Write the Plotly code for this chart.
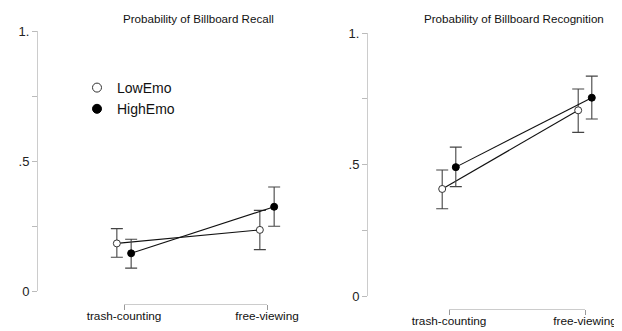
import plotly.graph_objects as go

PAGE_W, PAGE_H = 622, 331
OFF = 8  # default body margin of the page
W, H = PAGE_W - OFF, PAGE_H - OFF

categories = ["trash-counting", "free-viewing"]
groups = ["LowEmo", "HighEmo"]

# Recall panel
recall_low = [0.183, 0.235]
recall_low_err_plus = [0.057, 0.075]
recall_low_err_minus = [0.053, 0.076]
recall_high = [0.145, 0.324]
recall_high_err_plus = [0.054, 0.076]
recall_high_err_minus = [0.057, 0.075]

# Recognition panel
recog_low = [0.407, 0.706]
recog_low_err_plus = [0.072, 0.081]
recog_low_err_minus = [0.075, 0.084]
recog_high = [0.490, 0.754]
recog_high_err_plus = [0.076, 0.082]
recog_high_err_minus = [0.074, 0.081]

y_tickvals = [0, 0.25, 0.5, 0.75, 1.0]
y_ticktext = ["0", "", ".5", "", "1."]

titles = ["Probability of Billboard Recall", "Probability of Billboard Recognition"]

FONT = "Liberation Sans, Arial, Helvetica, sans-serif"
DODGE = 0.05


def px_x(p):
    return (p - OFF) / W


def px_y(p):
    return 1 - (p - OFF) / H


def x_axis_range(axis_px, cat0_px, cat1_px, end_px):
    scale = cat1_px - cat0_px
    return [-(cat0_px - axis_px) / scale, (end_px - cat0_px) / scale]


fig = go.Figure()

panels = [
    dict(low=recall_low, lp=recall_low_err_plus, lm=recall_low_err_minus,
         high=recall_high, hp=recall_high_err_plus, hm=recall_high_err_minus,
         xa="x", ya="y", xf="x3"),
    dict(low=recog_low, lp=recog_low_err_plus, lm=recog_low_err_minus,
         high=recog_high, hp=recog_high_err_plus, hm=recog_high_err_minus,
         xa="x2", ya="y2", xf="x4"),
]

xpos = list(range(len(categories)))
for pnl in panels:
    # range-frame x axis (empty trace so the axis is drawn)
    fig.add_trace(go.Scatter(x=[None], y=[None], xaxis=pnl["xf"], yaxis=pnl["ya"],
                             showlegend=False, hoverinfo="skip"))
    fig.add_trace(go.Scatter(
        x=[v - DODGE for v in xpos], y=pnl["low"], xaxis=pnl["xa"], yaxis=pnl["ya"],
        mode="lines+markers", showlegend=False, cliponaxis=False,
        line=dict(color="#111111", width=1.1),
        marker=dict(symbol="circle", size=7, color="white", line=dict(color="#333333", width=1)),
        error_y=dict(type="data", symmetric=False, array=pnl["lp"], arrayminus=pnl["lm"],
                     color="#444444", thickness=1.1, width=6),
    ))
    fig.add_trace(go.Scatter(
        x=[v + DODGE for v in xpos], y=pnl["high"], xaxis=pnl["xa"], yaxis=pnl["ya"],
        mode="lines+markers", showlegend=False, cliponaxis=False,
        line=dict(color="#111111", width=1.1),
        marker=dict(symbol="circle", size=7, color="black", line=dict(color="black", width=1)),
        error_y=dict(type="data", symmetric=False, array=pnl["hp"], arrayminus=pnl["hm"],
                     color="#444444", thickness=1.1, width=6),
    ))

# legend traces
fig.add_trace(go.Scatter(x=[None], y=[None], mode="markers", name=groups[0],
                         marker=dict(symbol="circle", size=9, color="white",
                                     line=dict(color="#333333", width=1))))
fig.add_trace(go.Scatter(x=[None], y=[None], mode="markers", name=groups[1],
                         marker=dict(symbol="circle", size=9, color="black",
                                     line=dict(color="black", width=1))))

yaxis_common = dict(
    range=[0, 1], tickvals=y_tickvals, ticktext=y_ticktext,
    showline=True, linecolor="#cccccc", linewidth=1,
    ticks="outside", ticklen=5, tickcolor="#bbbbbb", tickwidth=1,
    showgrid=False, zeroline=False, fixedrange=True, automargin=False,
    tickfont=dict(family=FONT, size=13, color="#222222"),
)
xdata_common = dict(showline=False, showgrid=False, zeroline=False,
                    showticklabels=False, ticks="", automargin=False)
xframe_common = dict(
    range=[0, 1], tickvals=xpos, ticktext=categories,
    showline=True, linecolor="#cccccc", linewidth=1,
    ticks="outside", ticklen=5, tickcolor="#999999", tickwidth=1,
    ticklabelstandoff=-4,
    showgrid=False, zeroline=False, automargin=False,
    tickfont=dict(family=FONT, size=11.8, color="#111111"),
)

fig.update_layout(
    template="none",
    width=W, height=H,
    margin=dict(l=0, r=0, t=0, b=0, autoexpand=False),
    paper_bgcolor="white", plot_bgcolor="rgba(0,0,0,0)",
    font=dict(family=FONT, color="#111111"),
    xaxis=dict(domain=[px_x(38), px_x(300)], range=x_axis_range(38, 124, 267, 300),
               anchor="y", **xdata_common),
    yaxis=dict(domain=[px_y(291), px_y(31)], anchor="x", **yaxis_common),
    xaxis2=dict(domain=[px_x(368), px_x(615)], range=x_axis_range(368, 449, 585, 615),
                anchor="y2", **xdata_common),
    yaxis2=dict(domain=[px_y(296), px_y(33)], anchor="x2", **yaxis_common),
    xaxis3=dict(domain=[px_x(124), px_x(267)], anchor="free", position=px_y(304),
                **xframe_common),
    xaxis4=dict(domain=[px_x(449), px_x(585)], anchor="free", position=px_y(309),
                **xframe_common),
    legend=dict(x=px_x(77), y=px_y(72), xanchor="left", yanchor="top",
                bgcolor="rgba(0,0,0,0)", font=dict(family=FONT, size=14, color="#111111"),
                tracegroupgap=0, itemwidth=30),
    annotations=[
        dict(text=titles[0], x=px_x(198), y=px_y(19), xref="paper", yref="paper",
             xanchor="center", yanchor="middle",
             showarrow=False, font=dict(family=FONT, size=11.6, color="#111111")),
        dict(text=titles[1], x=px_x(514), y=px_y(19), xref="paper", yref="paper",
             xanchor="center", yanchor="middle",
             showarrow=False, font=dict(family=FONT, size=11.6, color="#111111")),
    ],
    showlegend=True,
)

fig.write_html("out.html")
